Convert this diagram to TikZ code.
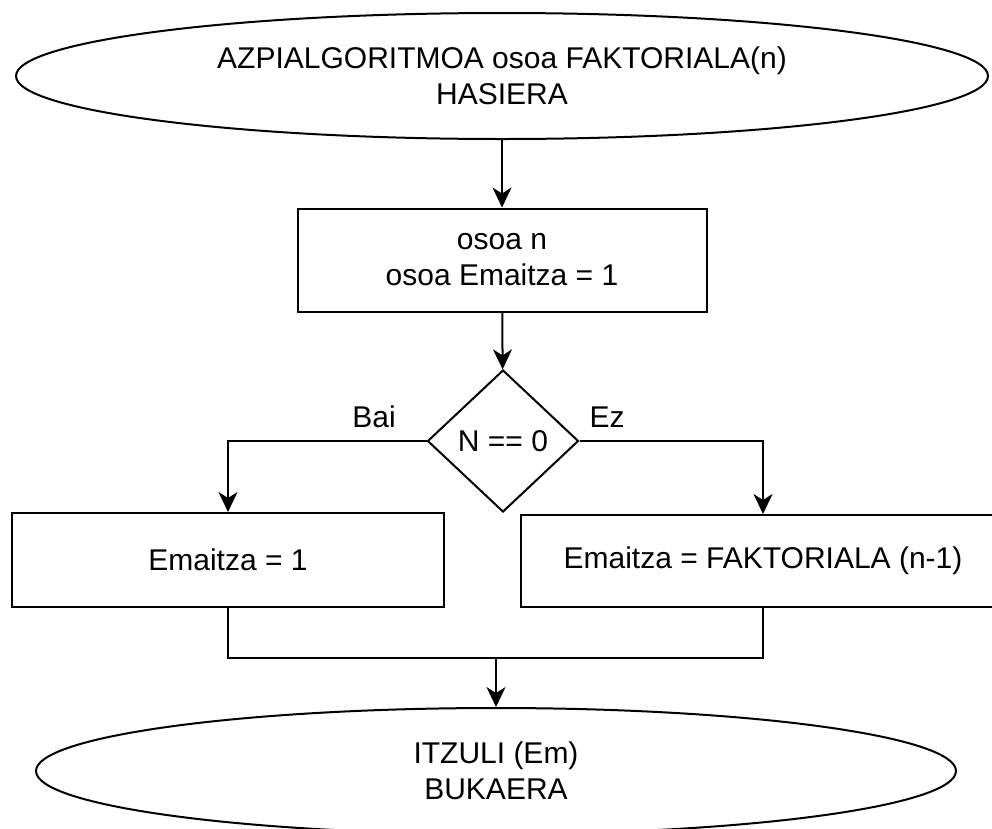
\documentclass[tikz,border=0pt]{standalone}
\usepackage{fontspec}
\setmainfont{Liberation Sans}
\usetikzlibrary{shapes.geometric,arrows.meta}
\begin{document}
\begin{tikzpicture}[x=1pt,y=-1pt,
  every node/.style={font=\fontsize{30}{36}\selectfont, align=center, inner sep=0pt},
  shapeline/.style={draw=black, line width=2pt},
  terminal/.style={shapeline, ellipse},
  process/.style={shapeline, rectangle},
  decision/.style={shapeline, diamond},
  flow/.style={line width=2pt, -{Stealth[length=20pt,width=19pt,inset=6pt]}},
  link/.style={line width=2pt}]
\useasboundingbox (0,0) rectangle (992,828);

% start / end terminals
\node[terminal, minimum width=972pt, minimum height=126pt] (start) at (502,76)
  {AZPIALGORITMOA osoa FAKTORIALA(n)\\HASIERA};
\node[terminal, minimum width=920pt, minimum height=126pt] (finish) at (496,771)
  {ITZULI (Em)\\BUKAERA};

% declarations
\node[process, minimum width=409pt, minimum height=103pt] (init) at (502,260)
  {osoa n\\osoa Emaitza = 1};

% test
\node[decision, minimum width=151pt, minimum height=142pt] (test) at (503,441) {N == 0};

% branches
\node[process, minimum width=432pt, minimum height=94pt] (yes) at (228,560) {Emaitza = 1};
\node[process, minimum width=484pt, minimum height=92pt] (no) at (763,561)
  {Emaitza = FAKTORIALA (n-1)};

\node (bai) at (374,417) {Bai};
\node (ez) at (607,417) {Ez};

\coordinate (join) at (496,658);

\draw[flow] (start) -- (init);
\draw[flow] (init) -- (test);
\draw[flow] (test.west) -| (yes.north);
\draw[flow] (test.east) -| (no.north);
\draw[link] (yes.south) -- (yes.south |- join) -- (no.south |- join) -- (no.south);
\draw[flow] (join) -- (finish.north);
\end{tikzpicture}
\end{document}
